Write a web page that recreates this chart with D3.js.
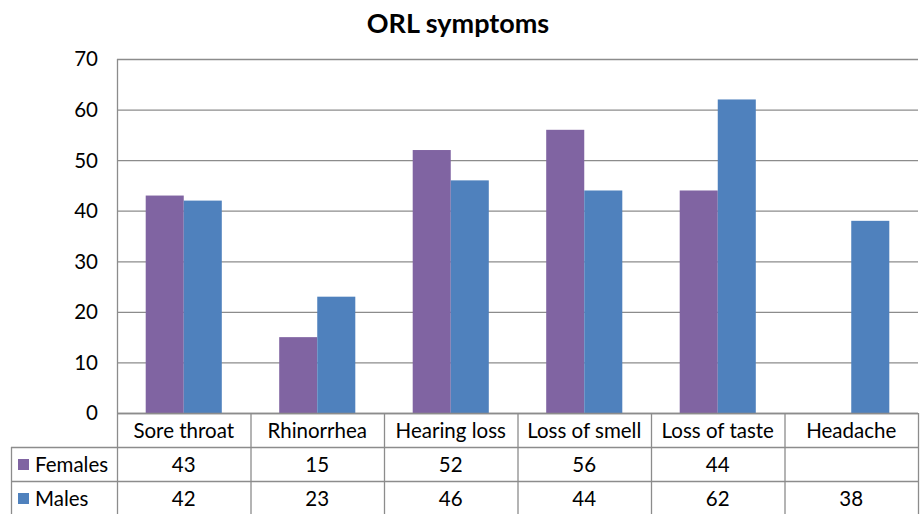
<!DOCTYPE html>
<html>
<head>
<meta charset="utf-8">
<script src="https://cdn.jsdelivr.net/npm/d3@7"></script>
<style>
  body { margin: 0; background: #fff; }
  text { font-family: Lato, "Open Sans", sans-serif; fill: #000; }
</style>
</head>
<body>
<div id="chart"></div>
<script>
// chart data
var categories = ["Sore throat", "Rhinorrhea", "Hearing loss", "Loss of smell", "Loss of taste", "Headache"];
var seriesNames = ["Females", "Males"];
var females = [43, 15, 52, 56, 44, null];
var males = [42, 23, 46, 44, 62, 38];
var yTicks = [0, 10, 20, 30, 40, 50, 60, 70];
var colors = ["#8064A2", "#4F81BD"];

var width = 921, height = 514;
var plotLeft = 117, plotRight = 918, plotTop = 59, plotBottom = 413;
var rowH = 34;
var fontSize = "20.5px";

var svg = d3.select("#chart").append("svg")
  .attr("width", width)
  .attr("height", height);

var x = d3.scaleBand()
  .domain(categories)
  .range([plotLeft, plotRight]);

var y = d3.scaleLinear()
  .domain([0, 70])
  .range([plotBottom, plotTop]);

// title
svg.append("text")
  .attr("x", 458)
  .attr("y", 33)
  .attr("text-anchor", "middle")
  .style("font-size", "27px")
  .style("font-weight", "bold")
  .text("ORL symptoms");

// gridlines
svg.selectAll(".grid")
  .data(yTicks)
  .enter()
  .append("line")
  .attr("x1", plotLeft)
  .attr("x2", plotRight)
  .attr("y1", d => y(d) + 0.5)
  .attr("y2", d => y(d) + 0.5)
  .attr("stroke", "#8c8c8c")
  .attr("stroke-width", 1.3);

// y axis line
svg.append("line")
  .attr("x1", plotLeft + 0.5).attr("x2", plotLeft + 0.5)
  .attr("y1", plotTop).attr("y2", plotBottom)
  .attr("stroke", "#8c8c8c")
  .attr("stroke-width", 1.3);

// y tick labels
svg.selectAll(".ytick")
  .data(yTicks)
  .enter()
  .append("text")
  .attr("x", 98)
  .attr("y", d => y(d))
  .attr("dy", "0.36em")
  .attr("text-anchor", "end")
  .style("font-size", fontSize)
  .text(d => d);

// bars
var barW = x.bandwidth() * 0.285;
var allSeries = [females, males];
allSeries.forEach(function(vals, s) {
  svg.selectAll(".bar" + s)
    .data(categories)
    .enter()
    .filter((d, i) => vals[i] != null)
    .append("rect")
    .attr("x", d => x(d) + x.bandwidth() / 2 - barW + s * barW)
    .attr("y", d => y(vals[categories.indexOf(d)]))
    .attr("width", barW)
    .attr("height", d => plotBottom - y(vals[categories.indexOf(d)]))
    .attr("fill", colors[s]);
});

// data table
var tableLeft = 11;
var gridColor = "#8c8c8c";
var table = svg.append("g");

// horizontal lines
[plotBottom, plotBottom + rowH, plotBottom + 2 * rowH].forEach(function(yy, i) {
  table.append("line")
    .attr("x1", i == 0 ? plotLeft : tableLeft)
    .attr("x2", plotRight)
    .attr("y1", yy + 0.5).attr("y2", yy + 0.5)
    .attr("stroke", gridColor).attr("stroke-width", 1.3);
});

// vertical lines
var vx = categories.map(c => x(c)).concat([plotRight]);
vx.forEach(function(xx) {
  table.append("line")
    .attr("x1", xx + 0.5).attr("x2", xx + 0.5)
    .attr("y1", plotBottom).attr("y2", height)
    .attr("stroke", gridColor).attr("stroke-width", 1.3);
});
table.append("line")
  .attr("x1", tableLeft + 0.5).attr("x2", tableLeft + 0.5)
  .attr("y1", plotBottom + rowH).attr("y2", height)
  .attr("stroke", gridColor).attr("stroke-width", 1.3);

// category header
table.selectAll(".cat")
  .data(categories)
  .enter()
  .append("text")
  .attr("x", d => x(d) + x.bandwidth() / 2)
  .attr("y", plotBottom + rowH / 2 + 1)
  .attr("dy", "0.36em")
  .attr("text-anchor", "middle")
  .style("font-size", fontSize)
  .text(d => d);

// series rows
seriesNames.forEach(function(name, s) {
  var rowY = plotBottom + rowH * (s + 1) + rowH / 2 + 1;
  table.append("rect")
    .attr("x", 18).attr("y", rowY - 6)
    .attr("width", 11).attr("height", 11)
    .attr("fill", colors[s]);
  table.append("text")
    .attr("x", 35).attr("y", rowY)
    .attr("dy", "0.36em")
    .style("font-size", fontSize)
    .text(name);
  table.selectAll(".val" + s)
    .data(categories)
    .enter()
    .append("text")
    .attr("x", d => x(d) + x.bandwidth() / 2)
    .attr("y", rowY)
    .attr("dy", "0.36em")
    .attr("text-anchor", "middle")
    .style("font-size", fontSize)
    .text((d, i) => allSeries[s][i] == null ? "" : allSeries[s][i]);
});
</script>
</body>
</html>
